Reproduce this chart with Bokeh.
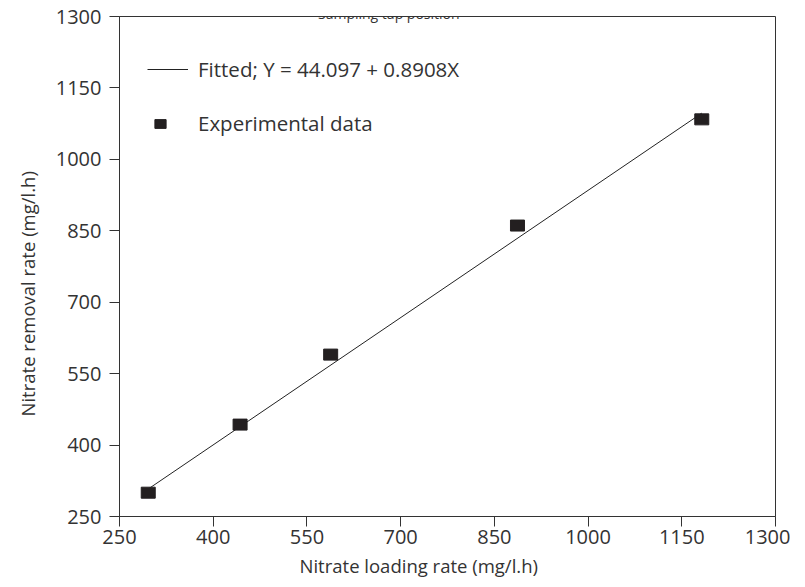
from bokeh.plotting import figure
from bokeh.models import FixedTicker, Legend, LegendItem, Label, Title
from bokeh.embed import file_html
from bokeh.resources import INLINE

# Data
loading_rate = [296, 443, 588, 887, 1182]
removal_rate = [300, 443, 590, 861, 1084]
intercept = 44.097
slope = 0.8908
ticks = [250, 400, 550, 700, 850, 1000, 1150, 1300]
fit_label = "Fitted; Y = 44.097 + 0.8908X"
data_label = "Experimental data"
title_text = "Sampling tap position"
x_title = "Nitrate loading rate (mg/l.h)"
y_title = "Nitrate removal rate (mg/l.h)"

fit_x = [min(loading_rate), max(loading_rate)]
fit_y = [intercept + slope * v for v in fit_x]

FONT = "Open Sans"
TXT = "#333333"

p = figure(width=790, height=594, x_range=(250, 1300), y_range=(250, 1300),
           output_backend="svg", toolbar_location=None,
           min_border_left=117, min_border_right=15, min_border_top=24, min_border_bottom=70)
p.styles = {"margin-top": "-8px"}
p.grid.visible = False
p.outline_line_color = "#333333"
p.outline_line_width = 1
p.background_fill_color = "white"
p.border_fill_color = "white"

for ax in (p.xaxis[0], p.yaxis[0]):
    ax.ticker = FixedTicker(ticks=ticks)
    ax.minor_tick_line_color = None
    ax.major_tick_in = 0
    ax.major_tick_out = 10
    ax.axis_line_color = "#333333"
    ax.major_tick_line_color = "#333333"
    ax.major_label_text_font = FONT
    ax.major_label_text_font_size = "20px"
    ax.major_label_text_color = TXT

p.xaxis.major_label_standoff = 3
p.yaxis.major_label_standoff = 8

line_r = p.line(fit_x, fit_y, line_color="#222222", line_width=1)
pts_r = p.rect(loading_rate, removal_rate, width=14, height=11,
               width_units="screen", height_units="screen",
               fill_color="#231f20", line_color="#231f20")

leg1 = Legend(items=[LegendItem(label=fit_label, renderers=[line_r])],
              location=(28, 433), glyph_width=41, glyph_height=20, label_standoff=10,
              padding=0, margin=0, border_line_alpha=0, background_fill_alpha=0,
              label_text_font=FONT, label_text_font_size="20.5px", label_text_color=TXT)
leg2 = Legend(items=[LegendItem(label=data_label, renderers=[pts_r])],
              location=(34, 379), glyph_width=14, glyph_height=11, label_height=20,
              label_standoff=31,
              padding=0, margin=0, border_line_alpha=0, background_fill_alpha=0,
              label_text_font=FONT, label_text_font_size="20.5px", label_text_color=TXT)
p.add_layout(leg1)
p.add_layout(leg2)

# axis titles, shifted from the frame centre as in the original
p.add_layout(Title(text=x_title, align="left", offset=180, standoff=8,
                   text_font=FONT, text_font_size="18.5px", text_font_style="normal",
                   text_color=TXT), "below")
p.add_layout(Title(text=y_title, align="left", offset=100, standoff=25,
                   text_font=FONT, text_font_size="18.5px", text_font_style="normal",
                   text_color=TXT), "left")

title = Label(x=681, y=1307, text=title_text, text_align="center",
              text_baseline="alphabetic", text_font=FONT, text_font_size="14px",
              text_color=TXT)
p.add_layout(title)

open("out.html", "w").write(file_html(p, INLINE))
